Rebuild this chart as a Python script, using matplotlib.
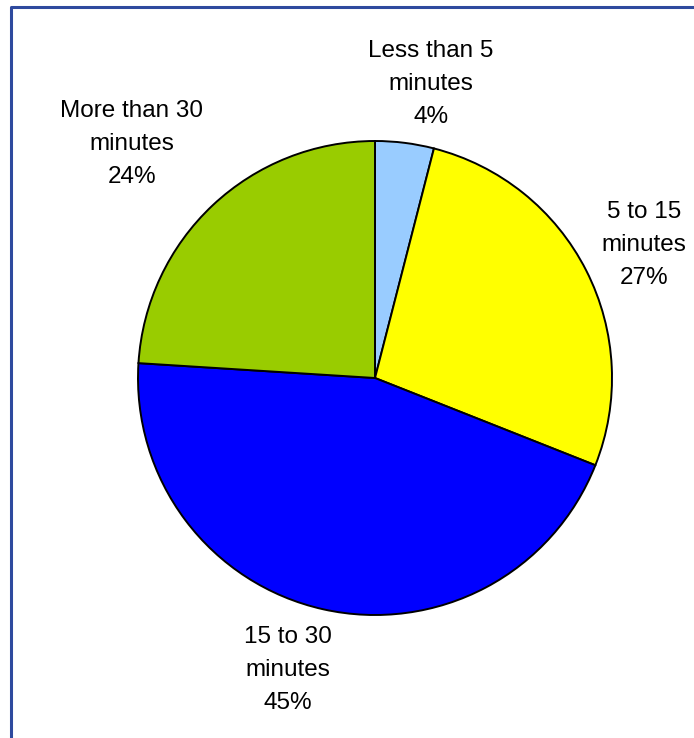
import matplotlib.pyplot as plt
import numpy as np

plt.rcParams['font.family'] = ['Liberation Sans', 'DejaVu Sans']

categories = ['Less than 5\nminutes', '5 to 15\nminutes', '15 to 30\nminutes', 'More than 30\nminutes']
shares = [4, 27, 45, 24]
colors = ['#99CCFF', '#FFFF00', '#0000FF', '#99CC00']
# nudges (px) applied to each label after placing it along the slice bisector
label_nudge = [(19, 2), (7, 0), (-23, -5), (-42, 20)]

W, H = 694, 738
fig = plt.figure(figsize=(W / 100, H / 100), dpi=100)
ax = fig.add_axes([0, 0, 1, 1])

# chart frame
ax.plot([11, 11, W + 5], [-5, H - 7, H - 7], color='#2E4A9E', lw=2.2, solid_capstyle='butt')

cx, cy, r = 375, H - 378, 237
wedges, _ = ax.pie(shares, colors=colors, startangle=90, counterclock=False,
                   center=(cx, cy), radius=r, frame=True,
                   wedgeprops=dict(edgecolor='black', linewidth=1.4))
ax.set_xlim(0, W)
ax.set_ylim(0, H)
ax.set_aspect('equal')
ax.axis('off')

for w, cat, s, (nx, ny) in zip(wedges, categories, shares, label_nudge):
    ang = np.deg2rad((w.theta1 + w.theta2) / 2)
    x = cx + 1.24 * r * np.cos(ang) + nx
    y = cy + 1.24 * r * np.sin(ang) + ny
    ax.text(x, y, f'{cat}\n{s}%', ha='center', va='center', fontsize=17.5,
            linespacing=1.65)

fig.savefig('out.png', dpi=100)
